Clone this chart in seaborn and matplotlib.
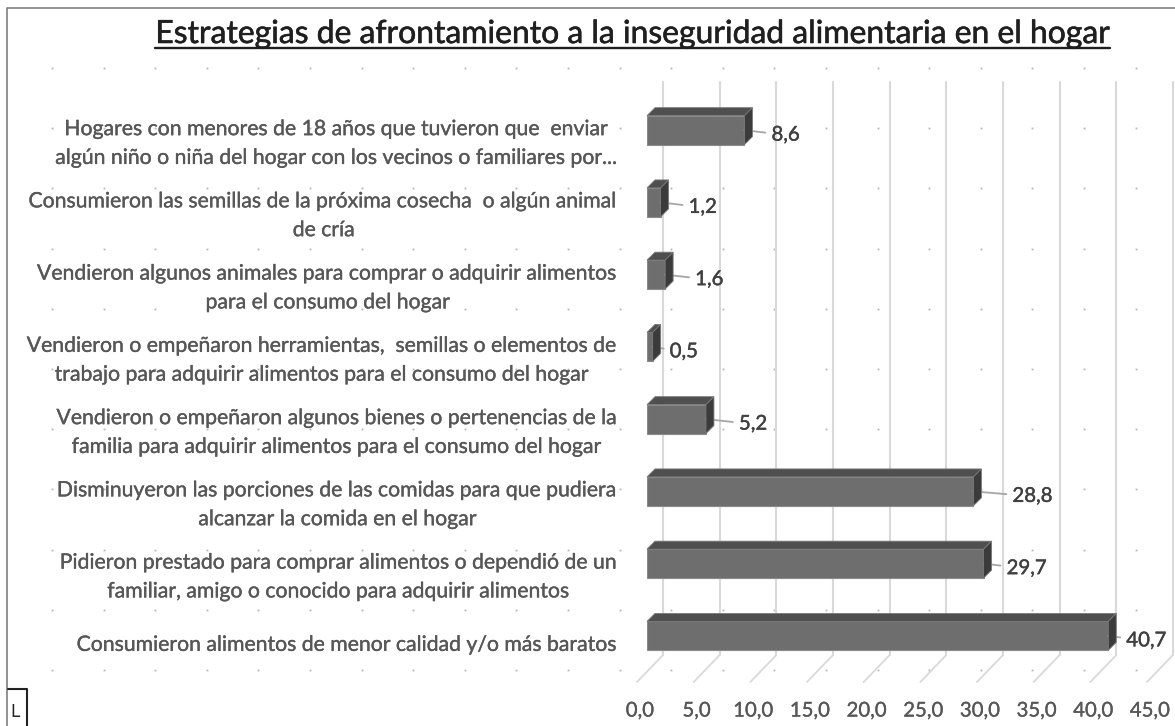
import numpy as np
import pandas as pd
import matplotlib
matplotlib.use("Agg")
import matplotlib.pyplot as plt
import matplotlib.transforms as mtransforms
import matplotlib.patheffects as pe
from matplotlib.patches import Polygon
from matplotlib.lines import Line2D
import seaborn as sns

# ---------------- data ----------------
categories = [
    "Hogares con menores de 18 años que tuvieron que  enviar\nalgún niño o niña del hogar con los vecinos o familiares por...",
    "Consumieron las semillas de la próxima cosecha  o algún animal\nde cría",
    "Vendieron algunos animales para comprar o adquirir alimentos\npara el consumo del hogar",
    "Vendieron o empeñaron herramientas,  semillas o elementos de\ntrabajo para adquirir alimentos para el consumo del hogar",
    "Vendieron o empeñaron algunos bienes o pertenencias de la\nfamilia para adquirir alimentos para el consumo del hogar",
    "Disminuyeron las porciones de las comidas para que pudiera\nalcanzar la comida en el hogar",
    "Pidieron prestado para comprar alimentos o dependió de un\nfamiliar, amigo o conocido para adquirir alimentos",
    "Consumieron alimentos de menor calidad y/o más baratos",
]
values = [8.6, 1.2, 1.6, 0.5, 5.2, 28.8, 29.7, 40.7]
value_labels = ["8,6", "1,2", "1,6", "0,5", "5,2", "28,8", "29,7", "40,7"]
x_ticks = [0, 5, 10, 15, 20, 25, 30, 35, 40, 45]
x_tick_labels = ["0,0", "5,0", "10,0", "15,0", "20,0", "25,0", "30,0", "35,0", "40,0", "45,0"]
title = "Estrategias de afrontamiento a la inseguridad alimentaria en el hogar"

# ---------------- layout / style ----------------
W, H, DPI = 1175, 726, 100
label_gap_px = [27, 28, 30, 17, 33, 39, 23, 18]
DEPTH = 8
AX_L, AX_T, AX_R, AX_B = 647, 94, 1157, 672
BACK_FLOOR, FRONT_FLOOR = 655, 682
TEXT_GRAY = "#575757"

sns.set_theme(style="white")
plt.rcParams["font.family"] = ["Lato", "DejaVu Sans"]

fig = plt.figure(figsize=(W / DPI, H / DPI), dpi=DPI)
fig.patch.set_facecolor("white")
renderer = fig.canvas.get_renderer()


def fit_size(text, target_px, base=10.0):
    t = fig.text(0, 0, text, fontsize=base)
    w = t.get_window_extent(renderer).width
    t.remove()
    return base * target_px / w


def heavy(color, lw=0.3):
    return [pe.withStroke(linewidth=lw, foreground=color)]


cat_size = fit_size("Consumieron alimentos de menor calidad y/o más baratos", 541)
title_size = fit_size(title, 955)
val_size = fit_size("28,8", 40)

ax = fig.add_axes([AX_L / W, 1 - AX_B / H, (AX_R - AX_L) / W, (AX_B - AX_T) / H])
ax.set_facecolor("none")

df = pd.DataFrame({"categoria": categories, "valor": values})
sns.barplot(data=df, x="valor", y="categoria", orient="h", color="#6e6e6e",
            saturation=1, width=0.40, edgecolor="#8a8a8a", linewidth=0.8,
            ax=ax, zorder=3)
ax.set_xlim(0, 45)
ax.set_ylim(len(categories) - 0.5, -0.5)
sns.despine(ax=ax, left=True, bottom=True, top=True, right=True)
ax.set_xlabel("")
ax.set_ylabel("")
ax.grid(False)

ax.set_xticks(x_ticks)
ax.set_xticklabels(x_tick_labels)
ax.tick_params(axis="x", length=0, pad=22, labelsize=val_size, labelcolor=TEXT_GRAY)
ax.tick_params(axis="y", length=0, pad=20, labelsize=cat_size, labelcolor=TEXT_GRAY)

for lab in ax.get_yticklabels():
    lab.set_multialignment("center")
    lab.set_linespacing(1.55)
    lab.set_path_effects(heavy(TEXT_GRAY, 0.25))
    lab.set_transform(lab.get_transform() +
                      mtransforms.ScaledTranslation(0, -7 / DPI, fig.dpi_scale_trans))
for lab in ax.get_xticklabels():
    lab.set_path_effects(heavy(TEXT_GRAY, 0.2))
    lab.set_transform(lab.get_transform() +
                      mtransforms.ScaledTranslation(-7 / DPI, 0, fig.dpi_scale_trans))

# back-wall gridlines
floor_frac = (AX_B - BACK_FLOOR) / (AX_B - AX_T)
gt = (mtransforms.blended_transform_factory(ax.transData, ax.transAxes) +
      mtransforms.ScaledTranslation(16 / DPI, 0, fig.dpi_scale_trans))
for v in x_ticks:
    ax.plot([v, v], [floor_frac, 1.02], transform=gt, color="#d9d9d9",
            lw=1.5, zorder=0, clip_on=False)

# value labels with leader lines
for i, (v, lab, gap) in enumerate(zip(values, value_labels, label_gap_px)):
    ax.annotate(lab, xy=(v, i), xytext=(gap, -5), textcoords="offset pixels",
                ha="left", va="center", fontsize=val_size, color="#404040",
                arrowprops=dict(arrowstyle="-", color="#a6a6a6", lw=1.3,
                                shrinkA=2, shrinkB=0),
                annotation_clip=False, zorder=5,
                path_effects=heavy("#404040", 0.3))

ax.set_xlim(0, 45)
ax.set_ylim(len(categories) - 0.5, -0.5)

fig.canvas.draw()
ident = mtransforms.IdentityTransform()

# floor diagonals
for v in x_ticks:
    X = ax.transData.transform((v, 0))[0]
    fig.add_artist(Line2D([X + 16, X - 10], [H - BACK_FLOOR, H - FRONT_FLOOR],
                          transform=ident, color="#d9d9d9", lw=1.3, zorder=-0.5))

# 3D faces of bars
for p in ax.patches:
    x0, y0, w, h = p.get_x(), p.get_y(), p.get_width(), p.get_height()
    (X0, Ya), (X1, Yb) = ax.transData.transform([(x0, y0), (x0 + w, y0 + h)])
    Ytop, Ybot = max(Ya, Yb), min(Ya, Yb)
    top = Polygon([(X0, Ytop), (X0 + DEPTH, Ytop + DEPTH), (X1 + DEPTH, Ytop + DEPTH), (X1, Ytop)],
                  closed=True, transform=ident, fc="#4f4f4f", ec="#7a7a7a", lw=0.6, zorder=4)
    side = Polygon([(X1, Ytop), (X1 + DEPTH, Ytop + DEPTH), (X1 + DEPTH, Ybot + DEPTH), (X1, Ybot)],
                   closed=True, transform=ident, fc="#3b3b3b", ec="#7a7a7a", lw=0.6, zorder=4)
    fig.add_artist(top)
    fig.add_artist(side)

# title with underline
t = fig.text(632.5 / W, 1 - 43 / H, title, ha="center", va="baseline",
             fontsize=title_size, color="#1f1f1f", path_effects=heavy("#1f1f1f", 0.4))
fig.canvas.draw()
bb = t.get_window_extent(renderer)
fig.add_artist(Line2D([bb.x0, bb.x1], [H - 47.5, H - 47.5], transform=ident,
                      color="#1f1f1f", lw=1.7))

# document grid dots
gx = np.arange(52, W, 51.6)
gy = np.arange(68, H, 60.2)
GX, GY = np.meshgrid(gx, H - gy)
fig.add_artist(Line2D(GX.ravel(), GY.ravel(), transform=ident, ls="none",
                      marker="s", ms=1.3, mfc="#b5b5b5", mec="none", zorder=-1))

# chart frame (left and top edges) and anchor mark
fig.add_artist(Line2D([7, 7, W], [0, H - 8, H - 8], transform=ident,
                      color="#7f7f7f", lw=1.2))
fig.add_artist(Line2D([8, 27, 27], [H - 689, H - 689, 0], transform=ident,
                      color="#222222", lw=1.5))
fig.text(10 / W, 1 - 717 / H, "L", fontsize=12, color="#222222",
         family=["DejaVu Sans"], ha="left", va="baseline")

fig.savefig("out.png", dpi=DPI)
